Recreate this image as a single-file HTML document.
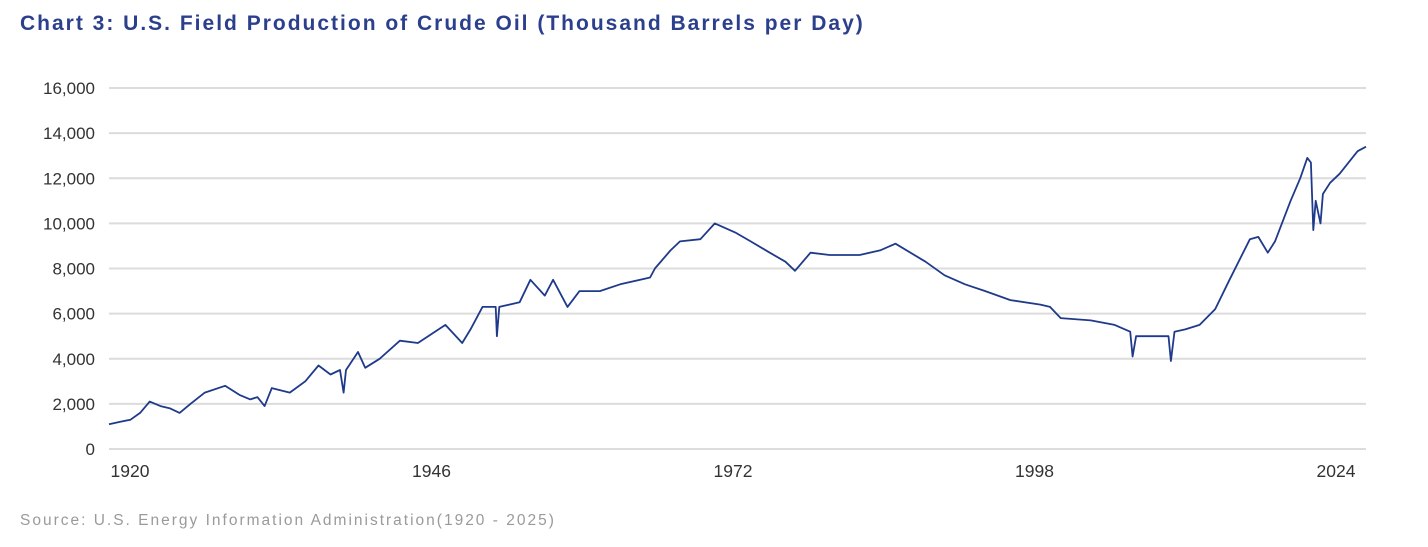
<!DOCTYPE html>
<html><head><meta charset="utf-8"><style>
body{margin:0;background:#fff;width:1428px;height:547px;overflow:hidden;font-family:"Liberation Sans",sans-serif}
#title{position:absolute;left:20px;top:12px;font-size:21px;font-weight:bold;color:#2b3f8c;letter-spacing:2px}
#src{position:absolute;left:20px;top:512px;font-size:15.5px;color:#9a9a9a;letter-spacing:2px}
svg{position:absolute;left:0;top:0}
</style></head><body>
<div id="title">Chart 3: U.S. Field Production of Crude Oil (Thousand Barrels per Day)</div>
<div id="src">Source: U.S. Energy Information Administration(1920 - 2025)</div>
<svg id="c" width="1428" height="547"></svg>
<script>
const years=[1920.0,1920.9,1921.8,1922.6,1923.4,1924.3,1925.1,1925.9,1926.8,1928.0,1929.7,1930.9,1931.8,1932.4,1933.0,1933.6,1935.1,1936.4,1937.5,1938.5,1939.3,1939.6,1939.8,1940.8,1941.4,1942.6,1944.3,1945.8,1948.1,1949.5,1950.2,1951.2,1952.3,1952.4,1952.6,1954.3,1955.2,1956.4,1957.1,1958.3,1959.3,1961.0,1962.7,1965.2,1965.6,1966.9,1967.7,1969.4,1970.6,1972.3,1973.6,1975.2,1976.5,1977.3,1978.6,1980.2,1982.7,1984.4,1985.7,1988.2,1989.8,1991.5,1993.2,1995.3,1997.8,1998.6,1999.5,2002.0,2004.0,2005.3,2005.5,2005.8,2007.0,2008.5,2008.7,2009.0,2009.9,2011.1,2012.4,2013.6,2015.3,2016.0,2016.8,2017.4,2018.7,2019.5,2020.1,2020.4,2020.6,2020.8,2021.2,2021.4,2022.0,2022.8,2023.7,2024.3,2025.0];
const production=[1100,1200,1300,1600,2100,1900,1800,1600,2000,2500,2800,2400,2200,2300,1900,2700,2500,3000,3700,3300,3500,2500,3500,4300,3600,4000,4800,4700,5500,4700,5300,6300,6300,5000,6300,6500,7500,6800,7500,6300,7000,7000,7300,7600,8000,8800,9200,9300,10000,9600,9200,8700,8300,7900,8700,8600,8600,8800,9100,8300,7700,7300,7000,6600,6400,6300,5800,5700,5500,5200,4100,5000,5000,5000,3900,5200,5300,5500,6200,7500,9300,9400,8700,9200,11000,12000,12900,12700,9700,11000,10000,11300,11800,12200,12800,13200,13400];
const yTicks=[0,2000,4000,6000,8000,10000,12000,14000,16000];
const xTicks=[1920,1946,1972,1998,2024];
const NS="http://www.w3.org/2000/svg",svg=document.getElementById('c');
const xs=y=>109+(y-1920)*(1366-109)/105;
const xl=y=>130+(y-1920)*(1336-130)/104;
const ys=v=>449-v*(449-88)/16000;
function mk(t,a){const e=document.createElementNS(NS,t);for(const k in a)e.setAttribute(k,a[k]);svg.appendChild(e);return e;}
yTicks.forEach(v=>{
 const g=mk('line',{x1:109,x2:1366,y1:ys(v),y2:ys(v),stroke:'#dcdcdc','stroke-width':2});
 
 
 const t=mk('text',{x:95,y:ys(v)+6,'text-anchor':'end','font-size':17,fill:'#333'});
 t.textContent=v.toLocaleString('en-US');
 
 
});
xTicks.forEach(y=>{
 const t=mk('text',{x:xl(y),y:477,'text-anchor':'middle','font-size':17.5,fill:'#333'});
 t.textContent=y;
 
 
});
const p=mk('polyline',{points:years.map((y,i)=>xs(y).toFixed(1)+','+ys(production[i]).toFixed(1)).join(' '),fill:'none',stroke:'#1f3a8a','stroke-width':1.8,'stroke-linejoin':'round'});


</script>
</body></html>
